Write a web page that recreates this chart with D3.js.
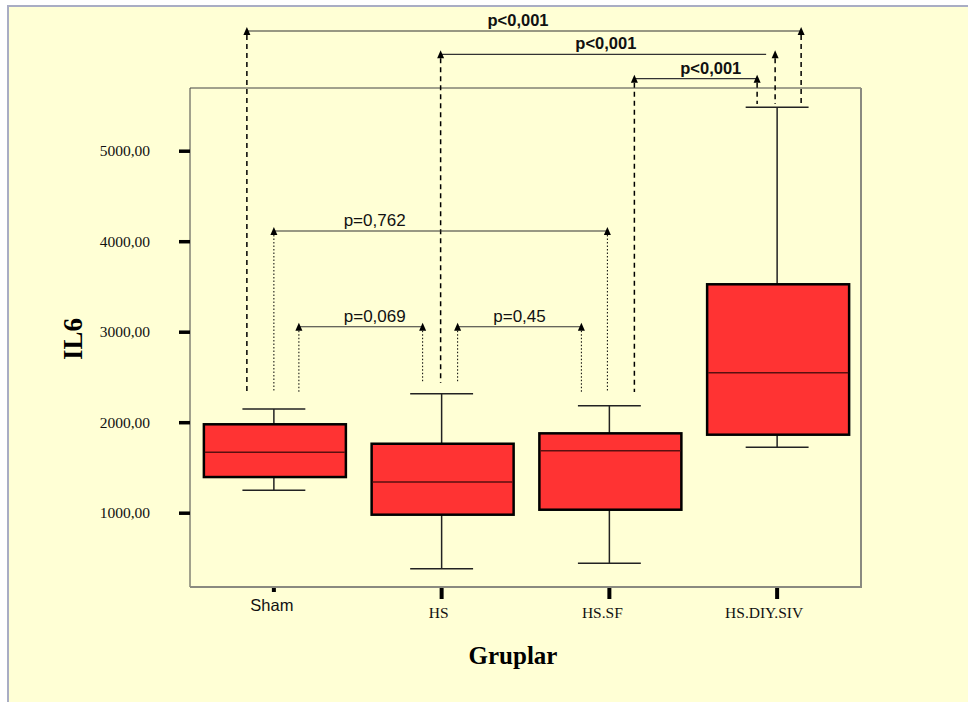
<!DOCTYPE html>
<html><head><meta charset="utf-8">
<script src="https://cdn.jsdelivr.net/npm/d3@7"></script>
<style>html,body{margin:0;padding:0;background:#fff;}svg{display:block;}</style>
</head><body>
<script>
// ---- data ----
const groups = ["Sham", "HS", "HS.SF", "HS.DIY.SIV"];
const whiskerLow  = [1248, 381, 441, 1723];
const q1          = [1394, 978, 1033, 1862];
const median      = [1667, 1339, 1685, 2547];
const q3          = [1977, 1762, 1877, 3524];
const whiskerHigh = [2146, 2315, 2182, 5480];
const yTicks = [1000, 2000, 3000, 4000, 5000];
const yTickLabels = ["1000,00", "2000,00", "3000,00", "4000,00", "5000,00"];
// comparisons: from group, to group, label, bracket level (in IL6 units)
const compFrom  = ["Sham", "HS", "HS.SF", "Sham", "Sham", "HS"];
const compTo    = ["HS.DIY.SIV", "HS.DIY.SIV", "HS.DIY.SIV", "HS.SF", "HS", "HS.SF"];
const compLabel = ["p<0,001", "p<0,001", "p<0,001", "p=0,762", "p=0,069", "p=0,45"];
const compLevel = [6323, 6065, 5796, 4113, 3055, 3055];

// ---- layout (positions / styles) ----
const W = 968, H = 702;
const plot = {left: 190, right: 861, top: 88, bottom: 587};
const legOffFrom = [-27, -1, 25, 0, 25, 16];
const legOffTo   = [24, -2, -20, -2, -19, -28];
const legEndFrom = [2334, 2433, 2334, 2334, 2334, 2433];
const legEndTo   = [5516, 5516, 5516, 2334, 2433, 2334];
const labelDx    = [-6, -2, 15, -66, 14, 0];
const lineTrimRight = [0, 9, 0, 0, 0, 0];
const bold = [true, true, true, false, false, false];
const xLabelDx = [-2, -3, -7, -13];
const serif = "Liberation Serif, Times New Roman, serif";
const sans = "Liberation Sans, Arial, sans-serif";

const svg = d3.select("body").append("svg").attr("width", W).attr("height", H);
svg.append("rect").attr("x", 0).attr("y", 0).attr("width", W).attr("height", H).attr("fill", "#ffffff");
svg.append("rect").attr("x", 7).attr("y", 5).attr("width", W - 7).attr("height", H - 5).attr("fill", "#FFFFD5");
svg.append("rect").attr("x", 7).attr("y", 5).attr("width", W - 7).attr("height", 2).attr("fill", "#A9ADC4");
svg.append("rect").attr("x", 7).attr("y", 5).attr("width", 2).attr("height", H - 5).attr("fill", "#A9ADC4");

const x = d3.scaleBand().domain(groups).range([plot.left, plot.right]).padding(0);
const y = d3.scaleLinear().domain([179, 5693]).range([plot.bottom, plot.top]);
const cx = g => x(g) + x.bandwidth() / 2;
const bw = x.bandwidth();

// plot frame
svg.append("line").attr("x1", plot.left).attr("x2", plot.right).attr("y1", plot.top).attr("y2", plot.top).attr("stroke", "#444").attr("stroke-width", 1);
svg.append("line").attr("x1", plot.left).attr("x2", plot.left).attr("y1", plot.top).attr("y2", plot.bottom).attr("stroke", "#444").attr("stroke-width", 1);
svg.append("line").attr("x1", plot.right).attr("x2", plot.right).attr("y1", plot.top).attr("y2", plot.bottom + 1).attr("stroke", "#8a8a80").attr("stroke-width", 2);
svg.append("line").attr("x1", plot.left).attr("x2", plot.right + 1).attr("y1", plot.bottom).attr("y2", plot.bottom).attr("stroke", "#8a8a80").attr("stroke-width", 2);

// y axis ticks
const yAxis = d3.axisLeft(y).tickValues(yTicks).tickSize(11).tickFormat((d, i) => yTickLabels[i]).tickPadding(29);
const ya = svg.append("g").attr("transform", `translate(${plot.left},0)`).call(yAxis);
ya.select(".domain").remove();
ya.selectAll(".tick line").attr("stroke", "#000").attr("stroke-width", 3.5);
ya.selectAll(".tick text").attr("font-family", serif).attr("font-size", 15.5).attr("fill", "#111");

// x axis ticks
const xAxis = d3.axisBottom(x).tickSize(11).tickPadding(7);
const xa = svg.append("g").attr("transform", `translate(0,${plot.bottom + 1})`).call(xAxis);
xa.select(".domain").remove();
xa.selectAll(".tick line").attr("stroke", "#000").attr("stroke-width", 4)
  .attr("y2", d => d === "Sham" ? 4 : 11);
xa.selectAll(".tick text")
  .attr("font-family", d => d === "Sham" ? sans : serif)
  .attr("font-size", d => d === "Sham" ? 16.5 : 15.5)
  .attr("fill", "#111")
  .attr("dx", (d, i) => xLabelDx[i])
  .attr("y", d => d === "Sham" ? 11 : 19);

// boxes
const bx = svg.append("g");
groups.forEach((g, i) => {
  const c = cx(g);
  const capW = bw * 0.375;
  bx.append("line").attr("x1", c).attr("x2", c).attr("y1", y(whiskerHigh[i])).attr("y2", y(q3[i])).attr("stroke", "#222").attr("stroke-width", 1.5);
  bx.append("line").attr("x1", c).attr("x2", c).attr("y1", y(q1[i])).attr("y2", y(whiskerLow[i])).attr("stroke", "#222").attr("stroke-width", 1.5);
  bx.append("line").attr("x1", c - capW / 2).attr("x2", c + capW / 2).attr("y1", y(whiskerHigh[i])).attr("y2", y(whiskerHigh[i])).attr("stroke", "#222").attr("stroke-width", 1.5);
  bx.append("line").attr("x1", c - capW / 2).attr("x2", c + capW / 2).attr("y1", y(whiskerLow[i])).attr("y2", y(whiskerLow[i])).attr("stroke", "#222").attr("stroke-width", 1.5);
  bx.append("rect").attr("x", c - 70).attr("y", y(q3[i])).attr("width", 142).attr("height", y(q1[i]) - y(q3[i]))
    .attr("fill", "#FF3333").attr("stroke", "#000").attr("stroke-width", 2.5);
  bx.append("line").attr("x1", c - 69).attr("x2", c + 71).attr("y1", y(median[i])).attr("y2", y(median[i])).attr("stroke", "#5a1010").attr("stroke-width", 1.5);
});

// comparisons
const an = svg.append("g");
function arrow(px, py) {
  an.append("path").attr("d", `M${px},${py - 4} L${px - 3.5},${py + 4} L${px + 3.5},${py + 4} Z`).attr("fill", "#000");
}
compFrom.forEach((f, i) => {
  const x1 = cx(f) + legOffFrom[i];
  const x2 = cx(compTo[i]) + legOffTo[i];
  const yl = y(compLevel[i]);
  const dash = bold[i] ? "5,4" : "1.5,2";
  an.append("line").attr("x1", x1).attr("x2", x1).attr("y1", yl + 4).attr("y2", y(legEndFrom[i])).attr("stroke", "#000").attr("stroke-width", bold[i] ? 1.5 : 1).attr("stroke-dasharray", dash);
  an.append("line").attr("x1", x2).attr("x2", x2).attr("y1", yl + 4).attr("y2", y(legEndTo[i])).attr("stroke", "#000").attr("stroke-width", bold[i] ? 1.5 : 1).attr("stroke-dasharray", dash);
  an.append("line").attr("x1", x1).attr("x2", x2 - lineTrimRight[i]).attr("y1", yl).attr("y2", yl).attr("stroke", "#333").attr("stroke-width", 1.2);
  arrow(x1, yl);
  arrow(x2, yl);
  an.append("text").attr("x", (x1 + x2) / 2 + labelDx[i]).attr("y", yl - 5)
    .attr("text-anchor", "middle")
    .attr("font-family", sans)
    .attr("font-size", bold[i] ? 16.5 : 17).attr("font-weight", bold[i] ? "bold" : "normal")
    .attr("fill", "#111").text(compLabel[i]);
});

// axis titles
svg.append("text").attr("transform", "translate(82,339) rotate(-90)").attr("text-anchor", "middle")
  .attr("font-family", serif).attr("font-weight", "bold").attr("font-size", 27).attr("fill", "#000").text("IL6");
svg.append("text").attr("x", 513).attr("y", 664).attr("text-anchor", "middle")
  .attr("font-family", serif).attr("font-weight", "bold").attr("font-size", 25).attr("fill", "#000").text("Gruplar");
</script>
</body></html>
